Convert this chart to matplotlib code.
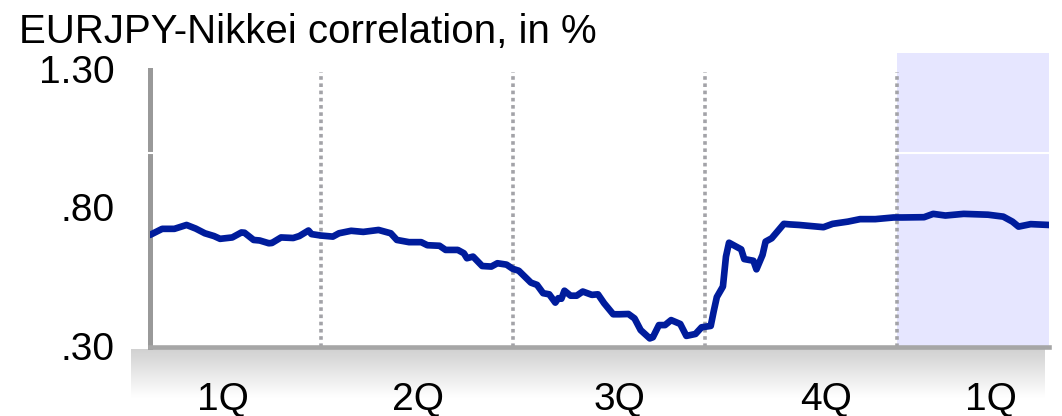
import numpy as np
import matplotlib
matplotlib.use("Agg")
import matplotlib.pyplot as plt

plt.rcParams["font.family"] = ["Liberation Sans", "DejaVu Sans"]

# -------------------
# Data (trading day index, correlation)
# -------------------

days = [
    0, 4, 8, 12, 15, 18, 21, 23, 27, 30, 31, 34, 36, 39, 40, 43, 47, 49,
    52, 53, 56, 60, 62, 66, 70, 75, 79, 81, 85, 89, 91, 95, 97, 101, 103,
    104, 106, 109, 112, 114, 117, 119, 121, 125, 127, 129, 131, 133, 134,
    135, 136, 138, 140, 142, 145, 147, 149, 152, 154, 157, 159, 161, 164,
    165, 167, 169, 171, 174, 176, 179, 181, 184, 185, 186, 188, 189, 190,
    194, 195, 198, 199, 201, 202, 204, 208, 210, 213, 216, 221, 224, 229,
    233, 238, 244, 247, 254, 257, 261, 267, 275, 280, 283, 285, 289, 295
]

corr = [
    0.704, 0.726, 0.726, 0.740, 0.727, 0.710, 0.700, 0.690, 0.695, 0.713,
    0.712, 0.686, 0.684, 0.674, 0.675, 0.695, 0.693, 0.700, 0.720, 0.707,
    0.702, 0.698, 0.710, 0.719, 0.715, 0.722, 0.710, 0.686, 0.678, 0.678,
    0.667, 0.665, 0.650, 0.650, 0.638, 0.620, 0.626, 0.592, 0.590, 0.602,
    0.597, 0.582, 0.575, 0.532, 0.524, 0.494, 0.490, 0.460, 0.476, 0.474,
    0.503, 0.485, 0.485, 0.500, 0.488, 0.490, 0.458, 0.418, 0.418, 0.419,
    0.403, 0.361, 0.331, 0.335, 0.379, 0.379, 0.397, 0.383, 0.340, 0.347,
    0.371, 0.376, 0.430, 0.480, 0.518, 0.626, 0.676, 0.652, 0.617, 0.611,
    0.580, 0.632, 0.680, 0.692, 0.744, 0.742, 0.740, 0.737, 0.732, 0.744,
    0.752, 0.761, 0.761, 0.767, 0.767, 0.768, 0.780, 0.774, 0.780, 0.777,
    0.770, 0.752, 0.734, 0.743, 0.740
]

quarter_breaks = [56, 119, 182, 245]

quarter_pos = [24, 88, 154, 222, 276]
quarter_labels = ["1Q", "2Q", "3Q", "4Q", "1Q"]

y_ticks = [1.30, 0.80, 0.30]
y_labels = ["1.30", ".80", ".30"]

forecast_start = 245

# -------------------
# Figure
# -------------------

W, H = 1062, 416

fig = plt.figure(figsize=(W / 100, H / 100), dpi=100)

# grey fade band under the axis
band = fig.add_axes([131 / W, (H - 398) / H, (1045 - 131) / W, 49 / H])
grad = np.linspace(0.78, 1.0, 64) ** 0.8
band.imshow(
    np.dstack([grad, grad, grad]).reshape(64, 1, 3),
    aspect="auto",
    extent=[0, 1, 0, 1]
)
band.axis("off")

ax = fig.add_axes([150 / W, (H - 347) / H, (1049 - 150) / W, (347 - 53) / H])
ax.set_facecolor("none")

ax.set_xlim(0, 295)
ax.set_ylim(0.30, 1.36)

ax.axvspan(forecast_start, 295, color="#E6E6FF", lw=0, zorder=0)

ax.axhline(1.0, color="white", lw=1.5, zorder=3, clip_on=False,
           xmin=-0.006)

for b in quarter_breaks:
    ax.vlines(b, 0.30, 1.29, colors="#A3A3A8", lw=2.6,
              linestyles=(0, (1, 1)), zorder=2)

ax.plot(days, corr, color="#001C9C", lw=4.8, solid_joinstyle="round",
        solid_capstyle="round", zorder=4)

# spines
for s in ["top", "right"]:
    ax.spines[s].set_visible(False)

ax.spines["left"].set_bounds(0.30, 1.30)
ax.spines["left"].set_color("#999999")
ax.spines["left"].set_linewidth(3.6)

ax.spines["bottom"].set_color("#A6A6A6")
ax.spines["bottom"].set_linewidth(3.3)

ax.set_xticks([])
ax.set_yticks([])

# y labels
for v, lbl in zip(y_ticks, y_labels):
    ax.annotate(
        lbl,
        xy=(0, v),
        xycoords=("axes fraction", "data"),
        xytext=(-35, -13),
        textcoords="offset pixels",
        ha="right",
        va="baseline",
        fontsize=28
    )

# x labels
for p, lbl in zip(quarter_pos, quarter_labels):
    ax.annotate(
        lbl,
        xy=(p, 0),
        xycoords=("data", "figure fraction"),
        xytext=(0, H - 410),
        textcoords="offset pixels",
        ha="center",
        va="baseline",
        fontsize=28
    )

fig.text(19 / W, 1 - 43 / H, "EURJPY-Nikkei correlation, in %",
         fontsize=29, va="baseline", ha="left")

fig.savefig("out.png", dpi=100)
